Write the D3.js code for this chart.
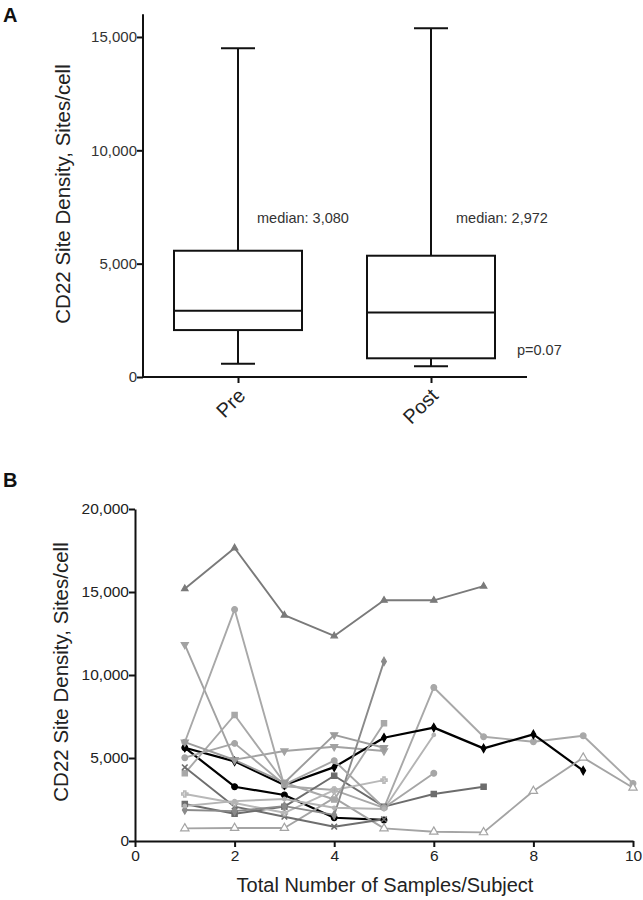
<!DOCTYPE html>
<html><head><meta charset="utf-8">
<script src="https://cdn.jsdelivr.net/npm/d3@7"></script>
<style>
body{margin:0;background:#fff;}
svg{font-family:Arial,"Liberation Sans",sans-serif;}
</style></head>
<body><svg id="c" width="643" height="900"></svg>
<script>
// ---------- Panel A data ----------
const boxCategories = ["Pre", "Post"];
const boxMin    = [590, 470];
const boxQ1     = [2070, 825];
const boxMedian = [2925, 2840];
const boxQ3     = [5570, 5350];
const boxMax    = [14500, 15380];
const medianLabels = ["median: 3,080", "median: 2,972"];
const pLabel = "p=0.07";
const yTicksA = [0, 5000, 10000, 15000];

// ---------- Panel B data ----------
const xTicksB = [0, 2, 4, 6, 8, 10];
const yTicksB = [0, 5000, 10000, 15000, 20000];
const seriesNames = ["s1","s2","s3","s4","s5","s6","s7","s8","s9","s10","s11","s12","s13","s14"];
const seriesValues = [
  [15200,17650,13600,12350,14500,14500,15350],
  [11830,4900,5420,5680,5420],
  [5950,13950,3300,3070,2000,9250,6280,5980,6340,3470],
  [5620,4800,3370,4450,6220,6830,5580,6420,4240],
  [5620,3270,2770,1400,1270],
  [760,780,780,2600,760,560,520,3010,5020,3210],
  [2230,1640,2070,3930,2070,2830,3270],
  [4080,7590,3510,2500,7090],
  [4440,2070,1460,860,1310],
  [2830,2290,1700,3070,3670],
  [1870,1800,2100,1570,10820],
  [5020,5880,3400,4840,2000,4080],
  [2110,2400,2530,2000,1930,6390],
  [5950,4880,3510,6390,5620]
];
const seriesColors = ["#7a7a7a","#a2a2a2","#a8a8a8","#000000","#000000","#a4a4a4","#6c6c6c","#a8a8a8","#6e6e6e","#b8b8b8","#8a8a8a","#a6a6a6","#b4b4b4","#9c9c9c"];
const seriesMarkers = ["triangle","triangledown","circle","diamond","circle","opentriangle","square","square","cross","plus","diamond","circle","small","triangledown"];

const svg = d3.select("#c");
const FF = "Arial, 'Liberation Sans', sans-serif";

// ================= Panel A =================
const gA = svg.append("g");
const yA = d3.scaleLinear().domain([0, 16000]).range([377, 14.3]);
const xA = d3.scalePoint().domain(boxCategories).range([238, 431]);
const boxW = 128;

const yAxA = gA.append("g").attr("transform","translate(143,0)")
  .call(d3.axisLeft(yA).tickValues(yTicksA).tickFormat(d3.format(",")).tickSize(6).tickSizeOuter(0));
yAxA.select(".domain").attr("stroke","#111").attr("stroke-width",2).attr("d","M0,14.3V377");
yAxA.selectAll(".tick line").attr("stroke","#111").attr("stroke-width",2);
yAxA.selectAll(".tick text").attr("font-size",15).attr("fill","#333").attr("x",-6).attr("font-family",FF);

const xAxA = gA.append("g").attr("transform","translate(0,377)")
  .call(d3.axisBottom(xA).tickSize(6).tickSizeOuter(0));
xAxA.select(".domain").attr("stroke","#111").attr("stroke-width",2).attr("d","M143,0H527");
xAxA.selectAll(".tick line").attr("stroke","#111").attr("stroke-width",2);
xAxA.selectAll(".tick text").attr("font-size",20).attr("fill","#222")
  .attr("text-anchor","end").attr("dy",null).attr("y",0)
  .attr("transform","translate(8,20) rotate(-45)").attr("font-family",FF);

const labelDx = [19, 25];
boxCategories.forEach((c,i)=>{
  const cx = xA(c);
  const g = gA.append("g").attr("stroke","#111").attr("stroke-width",2).attr("fill","none");
  g.append("line").attr("x1",cx).attr("x2",cx).attr("y1",yA(boxMax[i])).attr("y2",yA(boxQ3[i]));
  g.append("line").attr("x1",cx).attr("x2",cx).attr("y1",yA(boxQ1[i])).attr("y2",yA(boxMin[i]));
  g.append("line").attr("x1",cx-17).attr("x2",cx+17).attr("y1",yA(boxMax[i])).attr("y2",yA(boxMax[i]));
  g.append("line").attr("x1",cx-17).attr("x2",cx+17).attr("y1",yA(boxMin[i])).attr("y2",yA(boxMin[i]));
  g.append("rect").attr("x",cx-boxW/2).attr("width",boxW).attr("y",yA(boxQ3[i])).attr("height",yA(boxQ1[i])-yA(boxQ3[i])).attr("fill","#fff");
  g.append("line").attr("x1",cx-boxW/2).attr("x2",cx+boxW/2).attr("y1",yA(boxMedian[i])).attr("y2",yA(boxMedian[i]));
  gA.append("text").attr("x",cx+labelDx[i]).attr("y",223).attr("font-size",14.5).attr("fill","#333").text(medianLabels[i]);
});
gA.append("text").attr("x",517).attr("y",355).attr("font-size",14.5).attr("fill","#333").text(pLabel);

gA.append("text").attr("transform","translate(70,194) rotate(-90)").attr("text-anchor","middle")
  .attr("font-size",20.5).attr("fill","#222").text("CD22 Site Density, Sites/cell");
gA.append("text").attr("x",3).attr("y",22).attr("font-size",20).attr("font-weight","bold").attr("fill","#111").text("A");

// ================= Panel B =================
const gB = svg.append("g");
const xB = d3.scaleLinear().domain([0,10]).range([135,633]);
const yB = d3.scaleLinear().domain([0,20000]).range([841,509]);

const yAxB = gB.append("g").attr("transform","translate(135,0)")
  .call(d3.axisLeft(yB).tickValues(yTicksB).tickFormat(d3.format(",")).tickSize(6).tickSizeOuter(0));
yAxB.select(".domain").attr("stroke","#111").attr("stroke-width",2);
yAxB.selectAll(".tick line").attr("stroke","#111").attr("stroke-width",2);
yAxB.selectAll(".tick text").attr("font-size",15.5).attr("fill","#222").attr("x",-6).attr("font-family",FF);

const xAxB = gB.append("g").attr("transform","translate(0,841)")
  .call(d3.axisBottom(xB).tickValues(xTicksB).tickSize(6).tickSizeOuter(0));
xAxB.select(".domain").attr("stroke","#111").attr("stroke-width",2);
xAxB.selectAll(".tick line").attr("stroke","#111").attr("stroke-width",2);
xAxB.selectAll(".tick text").attr("font-size",15.5).attr("fill","#222").attr("y",9).attr("font-family",FF);

const line = d3.line().x((d,i)=>xB(i+1)).y(d=>yB(d));
const symMap = {
  triangle: d3.symbolTriangle, triangledown: d3.symbolTriangle, circle: d3.symbolCircle,
  diamond: d3.symbolDiamond, opentriangle: d3.symbolTriangle, square: d3.symbolSquare,
  cross: d3.symbolTimes, plus: d3.symbolCross, small: d3.symbolCircle
};
const sizeMap = {triangle:18, triangledown:22, circle:26, diamond:20, opentriangle:30, square:28, cross:22, plus:20, small:10};

seriesValues.forEach((vals, s)=>{
  const col = seriesColors[s];
  gB.append("path").datum(vals).attr("d", line).attr("fill","none").attr("stroke",col)
    .attr("stroke-width", col==="#000000" ? 2.2 : 1.9).attr("stroke-linejoin","round");
});
seriesValues.forEach((vals, s)=>{
  const col = seriesColors[s], m = seriesMarkers[s];
  const sym = d3.symbol().type(symMap[m]).size(sizeMap[m]);
  gB.append("g").selectAll("path").data(vals).join("path")
    .attr("transform",(d,i)=>`translate(${xB(i+1)},${yB(d)})${m==="triangledown"?" rotate(180)":""}`)
    .attr("d", sym)
    .attr("fill", m==="opentriangle" ? "#fff" : ((m==="cross"||m==="plus") ? "none" : col))
    .attr("stroke", col)
    .attr("stroke-width", (m==="cross"||m==="plus") ? 1.6 : 1.2);
});

gB.append("text").attr("transform","translate(68,672) rotate(-90)").attr("text-anchor","middle")
  .attr("font-size",20.5).attr("fill","#222").text("CD22 Site Density, Sites/cell");
gB.append("text").attr("x",385).attr("y",892).attr("text-anchor","middle")
  .attr("font-size",20).attr("fill","#222").text("Total Number of Samples/Subject");
gB.append("text").attr("x",3).attr("y",487).attr("font-size",20).attr("font-weight","bold").attr("fill","#111").text("B");
</script></body></html>
